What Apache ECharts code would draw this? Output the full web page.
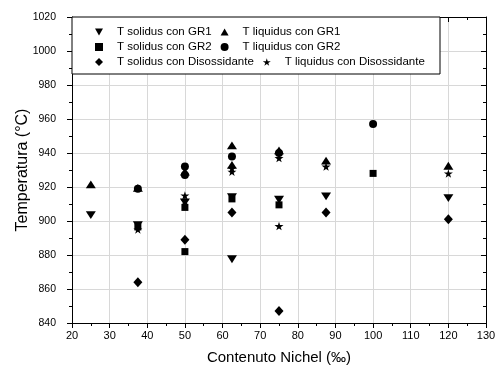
<!DOCTYPE html>
<html><head><meta charset="utf-8">
<script src="https://cdn.jsdelivr.net/npm/echarts@6/dist/echarts.min.js"></script>
<style>html,body{margin:0;padding:0;background:#fff}#c{width:496px;height:367px}</style>
</head><body><div id="c"></div>
<script>
const seriesNames = ['T solidus con GR1','T liquidus con GR1','T solidus con GR2','T liquidus con GR2','T solidus con Disossidante','T liquidus con Disossidante'];
const xSolGR1 = [25, 37.5, 50, 62.5, 62.5, 75, 87.5, 120];
const ySolGR1 = [903.5, 897.5, 911, 914, 877.5, 912.5, 914.5, 913.5];
const xLiqGR1 = [25, 37.5, 50, 62.5, 62.5, 75, 87.5, 120];
const yLiqGR1 = [921.5, 919.5, 929, 944.5, 933, 941.5, 935.5, 932.5];
const xSolGR2 = [37.5, 50, 50, 62.5, 75, 100];
const ySolGR2 = [896.5, 908, 882, 913, 909.5, 928];
const xLiqGR2 = [37.5, 50, 50, 62.5, 75, 100];
const yLiqGR2 = [919, 932, 927, 938, 940, 957];
const xSolDis = [37.5, 50, 62.5, 75, 87.5, 120];
const ySolDis = [864, 889, 905, 847, 905, 901];
const xLiqDis = [37.5, 50, 50, 62.5, 62.5, 75, 75, 87.5, 120];
const yLiqDis = [895, 915, 912, 929, 931, 937, 897, 932, 928];
const xTicks = [20, 130, 10];
const yTicks = [840, 1020, 20];

const star = 'path://M50,0 L61,35 L98,35 L68,57 L79,91 L50,70 L21,91 L32,57 L2,35 L39,35 Z';
const tri = 'path://M50,0 L100,87 L0,87 Z';
const triDown = 'path://M0,0 L100,0 L50,87 Z';
const symbols = [triDown, tri, 'rect', 'circle', 'diamond', star];
const sizes = [[10,9],[10,9],7,8,[9,10],9];
const xs = [xSolGR1, xLiqGR1, xSolGR2, xLiqGR2, xSolDis, xLiqDis];
const ys = [ySolGR1, yLiqGR1, ySolGR2, yLiqGR2, ySolDis, yLiqDis];

const font = 'Liberation Sans, Arial, sans-serif';
const chart = echarts.init(document.getElementById('c'), null, {renderer:'canvas'});
const grid = {left:72, right:10, top:17, bottom:44, containLabel:false, outerBoundsMode:'none'};
function legend(i, top){
  return {show:true, orient:'horizontal', left:95, top:top, padding:0, itemGap:9,
    itemWidth:8, itemHeight:8, z:10,
    data:[{name:seriesNames[i]},{name:seriesNames[i+1]}],
    textStyle:{fontFamily:font, fontSize:11.5, color:'#000', padding:[0,0,0,9]},
    selectedMode:false};
}
const option = {
  animation:false,
  backgroundColor:'#fff',
  grid:grid,
  graphic:[{type:'rect', shape:{x:72, y:17, width:368, height:57}, style:{fill:'#fff', stroke:'#000', lineWidth:1}, z:5}],
  legend:[legend(0,26), legend(2,41), legend(4,56)],
  xAxis:[{
    type:'value', min:xTicks[0], max:xTicks[1], interval:xTicks[2], position:'bottom',
    name:'Contenuto Nichel (‰)', nameLocation:'middle', nameGap:27, nameMoveOverlap:false,
    nameTextStyle:{fontFamily:font, fontSize:15, color:'#000'},
    axisLine:{show:true, lineStyle:{color:'#000', width:1}},
    axisTick:{show:true, inside:false, length:5, lineStyle:{color:'#000'}},
    minorTick:{show:true, splitNumber:2, length:3, lineStyle:{color:'#000'}},
    axisLabel:{fontFamily:font, fontSize:11, color:'#000', margin:7, formatter:v=>String(v)},
    splitLine:{show:true, lineStyle:{color:'#d8d8d8', width:1}}
  },{
    type:'value', min:xTicks[0], max:xTicks[1], interval:xTicks[2], position:'top',
    axisLine:{show:true, lineStyle:{color:'#000', width:1}},
    axisTick:{show:true, inside:true, length:5, lineStyle:{color:'#000'}},
    minorTick:{show:true, splitNumber:2, length:3, lineStyle:{color:'#000'}},
    axisLabel:{show:false}, splitLine:{show:false}
  }],
  yAxis:[{
    type:'value', min:yTicks[0], max:yTicks[1], interval:yTicks[2], position:'left',
    name:'Temperatura (°C)', nameLocation:'middle', nameGap:41, nameMoveOverlap:false,
    nameTextStyle:{fontFamily:font, fontSize:16, color:'#000'},
    axisLine:{show:true, lineStyle:{color:'#000', width:1}},
    axisTick:{show:true, inside:false, length:5, lineStyle:{color:'#000'}},
    minorTick:{show:true, splitNumber:2, length:3, lineStyle:{color:'#000'}},
    axisLabel:{fontFamily:font, fontSize:10.5, color:'#000', margin:16, formatter:v=>String(v)},
    splitLine:{show:true, lineStyle:{color:'#d8d8d8', width:1}}
  },{
    type:'value', min:yTicks[0], max:yTicks[1], interval:yTicks[2], position:'right',
    axisLine:{show:true, lineStyle:{color:'#000', width:1}},
    axisTick:{show:true, inside:true, length:5, lineStyle:{color:'#000'}},
    minorTick:{show:true, splitNumber:2, length:3, lineStyle:{color:'#000'}},
    axisLabel:{show:false}, splitLine:{show:false}
  }],
  series: seriesNames.map((n,i)=>({
    name:n, type:'scatter', xAxisIndex:0, yAxisIndex:0,
    symbol:symbols[i], symbolSize:sizes[i], symbolKeepAspect:true,
    itemStyle:{color:'#000', opacity:1},
    data: xs[i].map((x,k)=>[x, ys[i][k]]),
    z:3
  }))
};
chart.setOption(option);
</script></body></html>
